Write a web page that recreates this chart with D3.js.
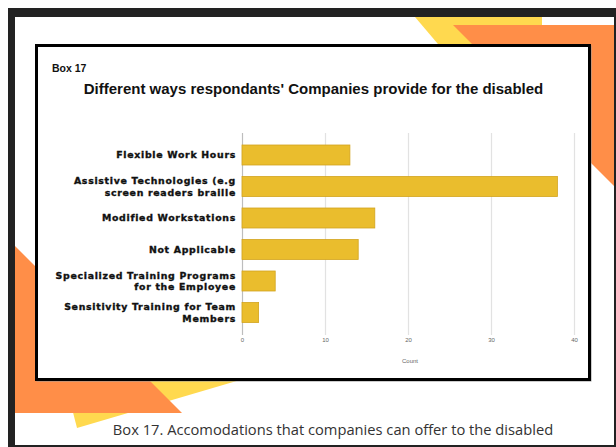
<!DOCTYPE html>
<html>
<head>
<meta charset="utf-8">
<script src="https://cdn.jsdelivr.net/npm/d3@7"></script>
<style>
  html, body { margin: 0; padding: 0; background: #fff; }
  svg { display: block; }
</style>
</head>
<body>
<svg id="chart" width="616" height="447"></svg>
<script>
// Survey answers: ways companies accommodate disabled staff
const categories = [
  "Flexible Work Hours",
  "Assistive Technologies (e.g\nscreen readers braille",
  "Modified Workstations",
  "Not Applicable",
  "Specialized Training Programs\nfor the Employee",
  "Sensitivity Training for Team\nMembers"
];
const counts = [13, 38, 16, 14, 4, 2];
const tickValues = [0, 10, 20, 30, 40];

const boxLabel = "Box 17";
const chartTitle = "Different ways respondants' Companies provide for the disabled";
const axisTitle = "Count";
const caption = "Box 17. Accomodations that companies can offer to the disabled";

const svg = d3.select("#chart");

// Slide frame: heavy black edge on top and left
svg.append("rect").attr("x", 8).attr("y", 8).attr("width", 608).attr("height", 439).attr("fill", "#222");
svg.append("rect").attr("x", 15).attr("y", 17).attr("width", 599).attr("height", 428).attr("fill", "#fff");

// Decorative corner shapes
svg.append("polygon")
  .attr("points", "415,17 542,17 542,70 460,70")
  .attr("fill", "#FFD94F");
svg.append("polygon")
  .attr("points", "453,25 614,25 614,186")
  .attr("fill", "#FF8E48");
svg.append("polygon")
  .attr("points", "77,428 240,380 240,350 66,385")
  .attr("fill", "#FFD94F");
svg.append("polygon")
  .attr("points", "15,246 15,413 182,413")
  .attr("fill", "#FF8E48");

// Chart panel
svg.append("rect")
  .attr("x", 37.5).attr("y", 46.5).attr("width", 553).attr("height", 334)
  .attr("fill", "none").attr("stroke", "#999").attr("stroke-width", 2);
svg.append("rect")
  .attr("x", 36.5).attr("y", 45.5).attr("width", 553).attr("height", 334)
  .attr("fill", "#fff").attr("stroke", "#000").attr("stroke-width", 3);

svg.append("text")
  .attr("x", 52).attr("y", 72)
  .attr("font-family", "Liberation Sans, Arial, sans-serif")
  .attr("font-weight", "bold").attr("font-size", 10.5)
  .attr("fill", "#111")
  .text(boxLabel);

svg.append("text")
  .attr("x", 313.5).attr("y", 93.5)
  .attr("text-anchor", "middle")
  .attr("font-family", "Liberation Sans, Arial, sans-serif")
  .attr("font-weight", "bold").attr("font-size", 15)
  .attr("fill", "#111")
  .text(chartTitle);

// Scales
const x = d3.scaleLinear().domain([0, 40]).range([242, 574]);
const y = d3.scaleBand()
  .domain(categories)
  .range([139.25, 328.25])
  .paddingInner(0.365)
  .paddingOuter(0.1825);

// Vertical gridlines
const grid = svg.append("g")
  .attr("transform", "translate(0,335)")
  .call(d3.axisBottom(x).tickValues(tickValues).tickSize(-202).tickFormat(d3.format("d")).tickPadding(3));
grid.select(".domain").remove();
grid.selectAll(".tick line")
  .attr("stroke", (d) => d === 0 ? "#bdbdbd" : "#e2e2e2")
  .attr("stroke-width", 1.2);
grid.selectAll(".tick text")
  .attr("font-family", "Liberation Sans, Arial, sans-serif")
  .attr("font-size", 6)
  .attr("fill", "#666");

svg.append("text")
  .attr("x", 410).attr("y", 363)
  .attr("text-anchor", "middle")
  .attr("font-family", "Liberation Sans, Arial, sans-serif")
  .attr("font-size", 6)
  .attr("fill", "#666")
  .text(axisTitle);

// Bars
svg.append("g").selectAll("rect")
  .data(categories)
  .join("rect")
  .attr("x", x(0))
  .attr("y", (d) => y(d))
  .attr("width", (d, i) => x(counts[i]) - x(0))
  .attr("height", y.bandwidth())
  .attr("fill", "#EABD2D")
  .attr("stroke", "#D3A41E")
  .attr("stroke-width", 0.8);

// Category labels (may wrap to two lines)
const labels = svg.append("g")
  .attr("font-family", "DejaVu Sans, sans-serif")
  .attr("font-weight", "bold")
  .attr("font-size", 9.4)
  .attr("letter-spacing", 0.7)
  .attr("fill", "#111")
  .attr("stroke", "#111")
  .attr("stroke-width", 0.35)
  .attr("text-anchor", "end");

categories.forEach((c) => {
  const lines = c.split("\n");
  const cy = y(c) + y.bandwidth() / 2;
  const lh = 11.5;
  const t = labels.append("text")
    .attr("y", cy - (lines.length - 1) * lh / 2);
  lines.forEach((ln, k) => {
    t.append("tspan")
      .attr("x", 236)
      .attr("dy", k === 0 ? "0.35em" : lh)
      .text(ln);
  });
});

// Slide caption
svg.append("text")
  .attr("x", 333).attr("y", 435)
  .attr("text-anchor", "middle")
  .attr("font-family", "Open Sans, sans-serif")
  .attr("font-size", 14.7)
  .attr("fill", "#333")
  .text(caption);
</script>
</body>
</html>
